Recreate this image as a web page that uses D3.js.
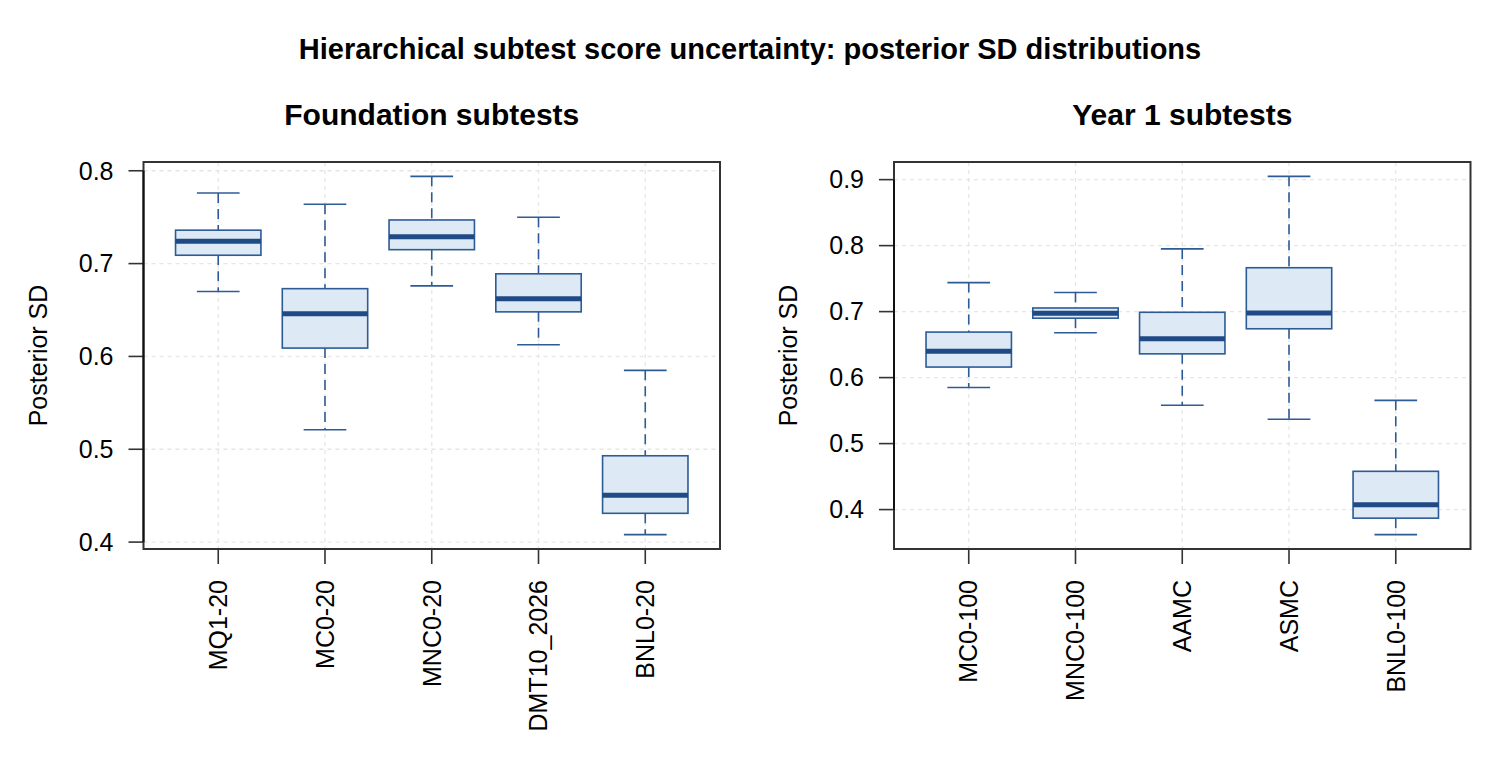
<!DOCTYPE html>
<html>
<head>
<meta charset="utf-8">
<script src="https://cdn.jsdelivr.net/npm/d3@7"></script>
<style>
  html, body { margin: 0; padding: 0; background: #ffffff; }
  svg { display: block; font-family: "Liberation Sans", Arial, Helvetica, sans-serif; }
</style>
</head>
<body>
<script>
// ---------- data ----------
const mainTitle = "Hierarchical subtest score uncertainty: posterior SD distributions";
const yLabel = "Posterior SD";

const foundTitle = "Foundation subtests";
const foundCats = ["MQ1-20", "MC0-20", "MNC0-20", "DMT10_2026", "BNL0-20"];
const foundLow  = [0.670, 0.521, 0.676, 0.6125, 0.408];
const foundQ1   = [0.709, 0.609, 0.715, 0.648, 0.431];
const foundMed  = [0.724, 0.646, 0.729, 0.662, 0.4505];
const foundQ3   = [0.736, 0.673, 0.747, 0.689, 0.493];
const foundHigh = [0.776, 0.764, 0.794, 0.750, 0.585];
const foundTicks = [0.4, 0.5, 0.6, 0.7, 0.8];

const year1Title = "Year 1 subtests";
const year1Cats = ["MC0-100", "MNC0-100", "AAMC", "ASMC", "BNL0-100"];
const year1Low  = [0.585, 0.668, 0.558, 0.537, 0.362];
const year1Q1   = [0.616, 0.690, 0.636, 0.674, 0.387];
const year1Med  = [0.640, 0.6975, 0.659, 0.698, 0.4075];
const year1Q3   = [0.669, 0.7055, 0.699, 0.7665, 0.458];
const year1High = [0.744, 0.729, 0.795, 0.905, 0.5655];
const year1Ticks = [0.4, 0.5, 0.6, 0.7, 0.8, 0.9];

// ---------- styling ----------
const W = 1500, H = 760;
const fillCol = "#dde9f4";
const borderCol = "#2c5b96";
const medCol = "#1f4a85";
const gridCol = "#e6e6e6";
const frameCol = "#333333";

const svg = d3.select("body").append("svg")
  .attr("width", W).attr("height", H)
  .attr("viewBox", `0 0 ${W} ${H}`);
svg.append("rect").attr("width", W).attr("height", H).attr("fill", "#fff");

svg.append("text")
  .attr("x", 750).attr("y", 59)
  .attr("text-anchor", "middle")
  .attr("font-size", 29).attr("font-weight", "bold")
  .text(mainTitle);

function panel(offsetX, title, cats, low, q1, med, q3, high, ticks) {
  const left = 143.5 + offsetX, right = 720 + offsetX, top = 162, bottom = 549;
  const g = svg.append("g");
  const lo = d3.min(low), hi = d3.max(high);
  const ext = (hi - lo) * 0.04;
  const y = d3.scaleLinear().domain([lo - ext, hi + ext]).range([bottom, top]);
  const x = d3.scalePoint().domain(cats).range([left, right]).padding(0.7);
  const step = x.step();
  const bw = step * 0.8;

  // grid
  g.selectAll(".hg").data(ticks).join("line")
    .attr("x1", left).attr("x2", right)
    .attr("y1", d => y(d)).attr("y2", d => y(d))
    .attr("stroke", gridCol).attr("stroke-width", 1.3).attr("stroke-dasharray", "4,4");
  g.selectAll(".vg").data(cats).join("line")
    .attr("x1", d => x(d)).attr("x2", d => x(d))
    .attr("y1", top).attr("y2", bottom)
    .attr("stroke", gridCol).attr("stroke-width", 1.3).attr("stroke-dasharray", "4,4");

  const data = cats.map((c, i) => ({c, low: low[i], q1: q1[i], med: med[i], q3: q3[i], high: high[i]}));
  const bx = g.selectAll(".box").data(data).join("g");
  // whiskers (dashed)
  bx.append("line")
    .attr("x1", d => x(d.c)).attr("x2", d => x(d.c))
    .attr("y1", d => y(d.high)).attr("y2", d => y(d.q3))
    .attr("stroke", borderCol).attr("stroke-width", 1.6).attr("stroke-dasharray", "10,6");
  bx.append("line")
    .attr("x1", d => x(d.c)).attr("x2", d => x(d.c))
    .attr("y1", d => y(d.q1)).attr("y2", d => y(d.low))
    .attr("stroke", borderCol).attr("stroke-width", 1.6).attr("stroke-dasharray", "10,6");
  // staples
  bx.append("line")
    .attr("x1", d => x(d.c) - bw / 4).attr("x2", d => x(d.c) + bw / 4)
    .attr("y1", d => y(d.high)).attr("y2", d => y(d.high))
    .attr("stroke", borderCol).attr("stroke-width", 1.6);
  bx.append("line")
    .attr("x1", d => x(d.c) - bw / 4).attr("x2", d => x(d.c) + bw / 4)
    .attr("y1", d => y(d.low)).attr("y2", d => y(d.low))
    .attr("stroke", borderCol).attr("stroke-width", 1.6);
  // box
  bx.append("rect")
    .attr("x", d => x(d.c) - bw / 2).attr("width", bw)
    .attr("y", d => y(d.q3)).attr("height", d => y(d.q1) - y(d.q3))
    .attr("fill", fillCol).attr("stroke", borderCol).attr("stroke-width", 1.6);
  // median
  bx.append("line")
    .attr("x1", d => x(d.c) - bw / 2).attr("x2", d => x(d.c) + bw / 2)
    .attr("y1", d => y(d.med)).attr("y2", d => y(d.med))
    .attr("stroke", medCol).attr("stroke-width", 5);

  // frame
  g.append("rect")
    .attr("x", left).attr("y", top).attr("width", right - left).attr("height", bottom - top)
    .attr("fill", "none").attr("stroke", frameCol).attr("stroke-width", 2);

  // y axis ticks & labels
  g.selectAll(".yt").data(ticks).join("line")
    .attr("x1", left - 15).attr("x2", left)
    .attr("y1", d => y(d)).attr("y2", d => y(d))
    .attr("stroke", frameCol).attr("stroke-width", 1.6);
  g.append("line")
    .attr("x1", left).attr("x2", left)
    .attr("y1", y(ticks[0])).attr("y2", y(ticks[ticks.length - 1]))
    .attr("stroke", "#111").attr("stroke-width", 2);
  g.selectAll(".yl").data(ticks).join("text")
    .attr("x", left - 30).attr("y", d => y(d)).attr("dy", "0.35em")
    .attr("text-anchor", "end").attr("font-size", 25).attr("fill", "#000")
    .text(d => d3.format(".1f")(d));

  // x axis ticks & labels
  g.selectAll(".xt").data(cats).join("line")
    .attr("x1", d => x(d)).attr("x2", d => x(d))
    .attr("y1", bottom).attr("y2", bottom + 15)
    .attr("stroke", frameCol).attr("stroke-width", 1.6);
  g.selectAll(".xl").data(cats).join("text")
    .attr("transform", d => `translate(${x(d)},${bottom + 31}) rotate(-90)`)
    .attr("dy", "0.35em")
    .attr("text-anchor", "end").attr("font-size", 25).attr("fill", "#000")
    .text(d => d);

  // y label
  g.append("text")
    .attr("transform", `translate(${left - 97},${(top + bottom) / 2}) rotate(-90)`)
    .attr("text-anchor", "middle").attr("font-size", 25).attr("fill", "#000")
    .text(yLabel);

  // panel title
  g.append("text")
    .attr("x", (left + right) / 2).attr("y", 125)
    .attr("text-anchor", "middle").attr("font-size", 30).attr("font-weight", "bold")
    .text(title);
}

panel(0, foundTitle, foundCats, foundLow, foundQ1, foundMed, foundQ3, foundHigh, foundTicks);
panel(750.5, year1Title, year1Cats, year1Low, year1Q1, year1Med, year1Q3, year1High, year1Ticks);
</script>
</body>
</html>
